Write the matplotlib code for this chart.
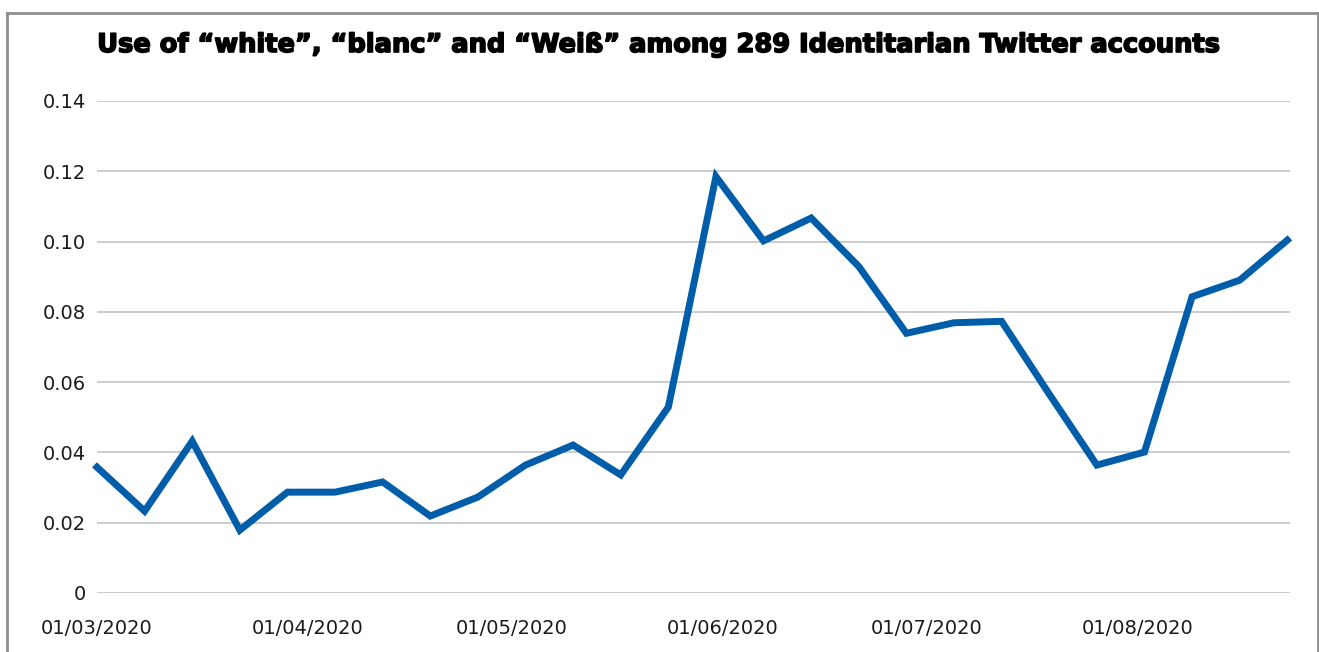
import matplotlib
matplotlib.use("Agg")
import matplotlib.pyplot as plt
import matplotlib.dates as mdates
import matplotlib.patheffects as pe
from matplotlib.lines import Line2D
import numpy as np
import pandas as pd

# weekly values, starting 01/03/2020
start_date = "2020-03-01"
share_values = [0.0358, 0.0233, 0.0432, 0.0179, 0.0287, 0.0287, 0.0316, 0.0219,
                0.0273, 0.0364, 0.0421, 0.0336, 0.0529, 0.1185, 0.1002, 0.1067,
                0.0929, 0.0739, 0.0769, 0.0773, 0.0566, 0.0364, 0.0401, 0.0843,
                0.0890, 0.1004]
y_ticks = [0, 0.02, 0.04, 0.06, 0.08, 0.10, 0.12, 0.14]
y_labels = ["0", "0.02", "0.04", "0.06", "0.08", "0.10", "0.12", "0.14"]
x_ticks = ["2020-03-01", "2020-04-01", "2020-05-01", "2020-06-01", "2020-07-01", "2020-08-01"]
title = "Use of \u201cwhite\u201d, \u201cblanc\u201d and \u201cWei\u00df\u201d among 289 Identitarian Twitter accounts"

dates = pd.date_range(start_date, periods=len(share_values), freq="7D")

W, H = 1319, 652
fig = plt.figure(figsize=(W / 100, H / 100), dpi=100)
ax = fig.add_axes([97 / W, 1 - 593 / H, (1290 - 97) / W, (593 - 101) / H])

ax.plot(dates, share_values, color="#005daa", lw=5, solid_joinstyle="miter", clip_on=False, zorder=3)

ax.set_ylim(0, 0.14)
ax.set_yticks(y_ticks)
ax.set_yticklabels(y_labels)
ax.set_xlim(dates[0], dates[-1] + pd.Timedelta(days=0.4))
ax.set_xticks(pd.to_datetime(x_ticks))
ax.xaxis.set_major_formatter(mdates.DateFormatter("%d/%m/%Y"))

ax.grid(axis="y", color="#c8c8c8", lw=1.3)
ax.set_axisbelow(True)
for s in ax.spines.values():
    s.set_visible(False)
ax.tick_params(length=0, labelsize=14, labelcolor="#1a1a1a")
ax.tick_params(axis="y", pad=8)
ax.tick_params(axis="x", pad=19)
for lab in ax.get_xticklabels() + ax.get_yticklabels():
    lab.set_family(["DejaVu Sans"])

fig.text(659.5 / W, 1 - 45 / H, title, ha="center", va="center", fontsize=18.5,
         fontweight="bold", family=["DejaVu Sans"], color="black",
         path_effects=[pe.withStroke(linewidth=1.2, foreground="black")])

# outer frame
frame_kw = dict(transform=fig.transFigure, color="#8e8e8e", lw=2)
fig.add_artist(Line2D([6.5 / W, 6.5 / W], [0, 1 - 12.5 / H], **frame_kw))
fig.add_artist(Line2D([6.5 / W, 1318 / W], [1 - 12.5 / H, 1 - 12.5 / H], **frame_kw))
fig.add_artist(Line2D([1318 / W, 1318 / W], [0, 1 - 12.5 / H], **frame_kw))

fig.savefig("out.png", dpi=100)
